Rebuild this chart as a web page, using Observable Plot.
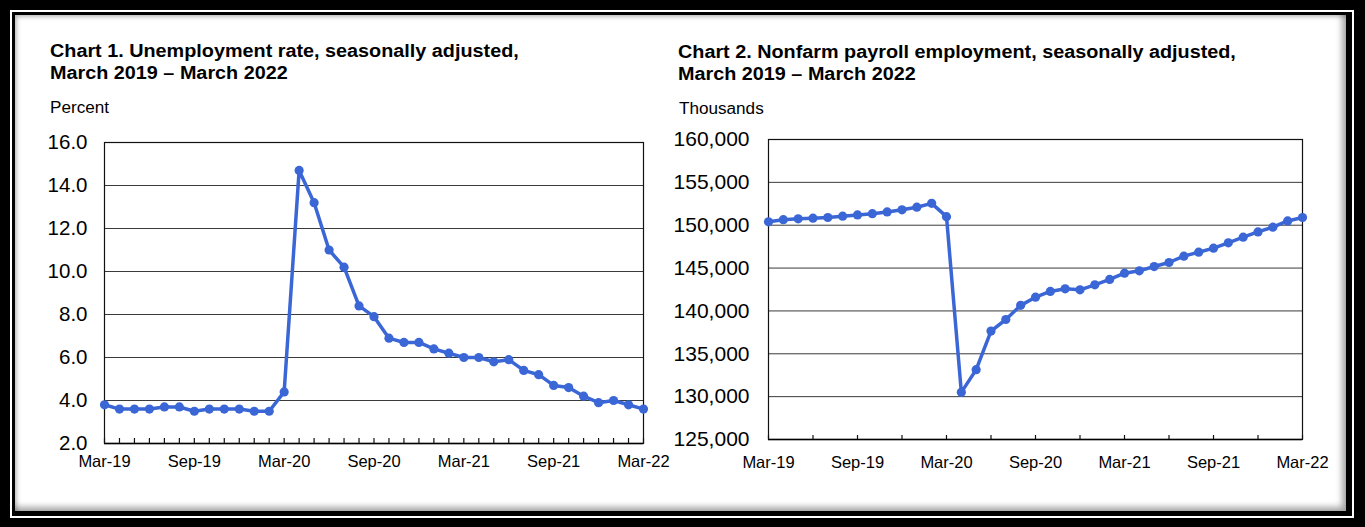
<!DOCTYPE html>
<html>
<head>
<meta charset="utf-8">
<script src="https://cdn.jsdelivr.net/npm/d3@7"></script>
<script src="https://cdn.jsdelivr.net/npm/@observablehq/plot@0.6"></script>
<style>
  html, body { margin: 0; padding: 0; background: #000; width: 1365px; height: 527px; overflow: hidden; }
  body { position: relative; font-family: Arial, "Liberation Sans", sans-serif; }
  .frame { position: absolute; left: 10px; top: 10px; width: 1344px; height: 508px; box-sizing: border-box; border: 2px solid #fff; }
  .panel { position: absolute; left: 15px; top: 15px; width: 1331px; height: 496px; background: #fff;
           box-shadow: inset -4px -4px 6px rgba(0,0,0,0.35), inset 2px 2px 4px rgba(0,0,0,0.25); }
  .title { position: absolute; font-weight: bold; font-size: 18px; line-height: 22px; color: #000; white-space: nowrap;
           transform: scaleX(1.1); transform-origin: 0 0; }
  .unit { position: absolute; font-size: 16px; line-height: 18px; color: #000; white-space: nowrap;
          transform: scaleX(1.07); transform-origin: 0 0; }
  .chart { position: absolute; }
</style>
</head>
<body>
<div class="frame"></div>
<div class="panel"></div>
<div class="title" style="left:50px; top:40px;">Chart 1. Unemployment rate, seasonally adjusted,<br>March 2019 – March 2022</div>
<div class="unit" style="left:50px; top:99px;">Percent</div>
<div class="title" style="left:678px; top:41px;">Chart 2. Nonfarm payroll employment, seasonally adjusted,<br>March 2019 – March 2022</div>
<div class="unit" style="left:679px; top:100px;">Thousands</div>
<div id="c1" class="chart" style="left:40px; top:125px;"></div>
<div id="c2" class="chart" style="left:660px; top:120px;"></div>
<script>
const months = ["Mar-19","Apr-19","May-19","Jun-19","Jul-19","Aug-19","Sep-19","Oct-19","Nov-19","Dec-19",
  "Jan-20","Feb-20","Mar-20","Apr-20","May-20","Jun-20","Jul-20","Aug-20","Sep-20","Oct-20","Nov-20","Dec-20",
  "Jan-21","Feb-21","Mar-21","Apr-21","May-21","Jun-21","Jul-21","Aug-21","Sep-21","Oct-21","Nov-21","Dec-21",
  "Jan-22","Feb-22","Mar-22"];
const labelMonths = ["Mar-19","Sep-19","Mar-20","Sep-20","Mar-21","Sep-21","Mar-22"];
const quarterMonths = ["Mar-19","Jun-19","Sep-19","Dec-19","Mar-20","Jun-20","Sep-20","Dec-20",
  "Mar-21","Jun-21","Sep-21","Dec-21","Mar-22"];

const unemploymentRate = [3.8,3.6,3.6,3.6,3.7,3.7,3.5,3.6,3.6,3.6,
  3.5,3.5,4.4,14.7,13.2,11.0,10.2,8.4,7.9,6.9,6.7,6.7,
  6.4,6.2,6.0,6.0,5.8,5.9,5.4,5.2,4.7,4.6,4.2,3.9,
  4.0,3.8,3.6];
const payrollEmployment = [150400,150650,150750,150820,150900,151050,151200,151350,151550,151800,
  152100,152550,151000,130500,133150,137650,139000,140650,141600,142270,142580,142460,
  143050,143670,144400,144680,145180,145650,146390,146850,147320,147950,148600,149220,
  149770,150500,150900];

const rateTicks = [2,4,6,8,10,12,14,16];
const payrollTicks = [125000,130000,135000,140000,145000,150000,155000,160000];

const blue = "#3a66d6";
const font = "Arial, 'Liberation Sans', sans-serif";

const rateData = months.map((m, i) => ({month: m, value: unemploymentRate[i]}));
const payrollData = months.map((m, i) => ({month: m, value: payrollEmployment[i]}));

function makeChart({data, yTicks, yDomain, yFormat, width, height, mL, mR, mT, mB, yPad, xPad, yFont, tickMonths, tickLen}) {
  const plotH = height - mT - mB;
  return Plot.plot({
    width, height,
    marginLeft: mL, marginRight: mR, marginTop: mT, marginBottom: mB,
    style: {fontFamily: font, background: "transparent", color: "#000", overflow: "visible"},
    x: {type: "point", domain: months, padding: 0, label: null},
    y: {domain: yDomain, label: null},
    marks: [
      Plot.ruleY(yTicks, {stroke: "#3a3a3a", strokeWidth: 1}),
      Plot.frame({stroke: "#111", strokeWidth: 1.2}),
      Plot.ruleY([yDomain[0]], {stroke: "#000", strokeWidth: 1.6}),
      Plot.ruleX(tickMonths, {insetTop: plotH - tickLen, stroke: "#111", strokeWidth: 1.2}),
      Plot.axisY({ticks: yTicks, tickSize: 0, tickPadding: yPad, tickFormat: yFormat, fontSize: yFont, label: null}),
      Plot.axisX({ticks: labelMonths, tickSize: 0, tickPadding: xPad, fontSize: 16.5, label: null}),
      Plot.line(data, {x: "month", y: "value", stroke: blue, strokeWidth: 3.5}),
      Plot.dot(data, {x: "month", y: "value", fill: blue, r: 4.6})
    ]
  });
}

document.getElementById("c1").append(makeChart({
  data: rateData, yTicks: rateTicks, yDomain: [2, 16], yFormat: d3.format(".1f"),
  width: 620, height: 350, mL: 64, mR: 17, mT: 17, mB: 32, yPad: 17, xPad: 12, yFont: 20.5,
  tickMonths: months, tickLen: 5
}));

document.getElementById("c2").append(makeChart({
  data: payrollData, yTicks: payrollTicks, yDomain: [125000, 160000], yFormat: d3.format(","),
  width: 680, height: 355, mL: 108, mR: 38, mT: 19, mB: 36, yPad: 19, xPad: 17, yFont: 21,
  tickMonths: quarterMonths, tickLen: 4
}));
</script>
</body>
</html>
